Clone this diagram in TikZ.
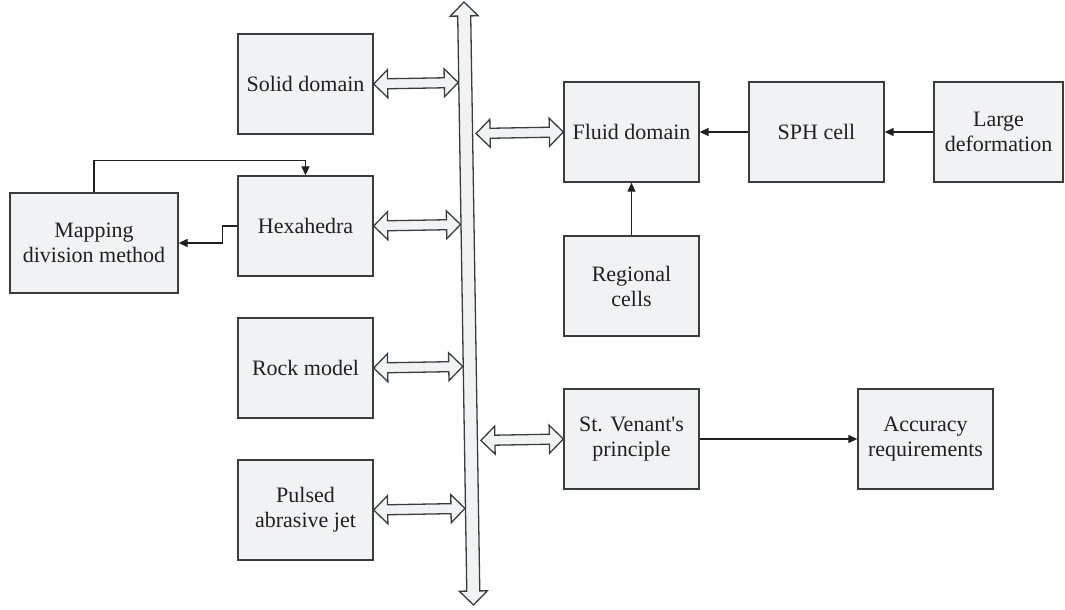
\documentclass[tikz,border=0pt]{standalone}
\usepackage{fontspec}
\setmainfont{Liberation Serif}
\usetikzlibrary{calc,arrows.meta}
\definecolor{boxfill}{HTML}{F1F2F4}
\definecolor{boxline}{HTML}{3C3C3C}
\definecolor{ink}{HTML}{231F20}
\tikzset{%
  block/.style={rectangle,draw=boxline,fill=boxfill,line width=1.3pt,
    minimum width=135pt,minimum height=100pt,align=center,text=ink,
    font=\fontsize{22}{25}\selectfont},
  flow/.style={draw=ink,line width=1.2pt,-{Triangle[length=9pt,width=8pt]}},
  bigarrow/.style={draw=boxline,fill=boxfill,line width=1.3pt,line join=miter}
}
% hollow two-headed arrow: #1 and #2 are the tips,
% #3 half the shaft width, #4 half the head width (and head length)
\newcommand{\fatarrow}[4]{%
  \filldraw[bigarrow] (#1)
    -- ($(#1)!#4!(#2)!#4!90:(#2)$)
    -- ($(#1)!#4!(#2)!#3!90:(#2)$)
    -- ($(#2)!#4!(#1)!#3!-90:(#1)$)
    -- ($(#2)!#4!(#1)!#4!-90:(#1)$)
    -- (#2)
    -- ($(#2)!#4!(#1)!#4!90:(#1)$)
    -- ($(#2)!#4!(#1)!#3!90:(#1)$)
    -- ($(#1)!#4!(#2)!#3!-90:(#2)$)
    -- ($(#1)!#4!(#2)!#4!-90:(#2)$)
    -- cycle;}

\begin{document}
\begin{tikzpicture}[x=1pt,y=1pt,node distance=142pt]
    \useasboundingbox (0,0) rectangle (1065,610);

    % solid side
    \node [block] (solid) at (305.5,526) {Solid domain};
    \node [block] (hexa) [below of=solid] {Hexahedra};
    \node [block] (rock) [below of=hexa] {Rock model};
    \node [block] (pulsed) [below of=rock] {Pulsed\\abrasive jet};
    \node [block, minimum width=168pt] (mapping) at (94,367) {Mapping\\division method};

    % fluid side
    \node [block] (fluid) at (631.5,478) {Fluid domain};
    \node [block] (sph) [right of=fluid, node distance=185pt] {SPH cell};
    \node [block, minimum width=129pt] (large) [right of=sph, node distance=182pt] {Large\\deformation};
    \node [block] (regional) [below of=fluid, node distance=154pt] {Regional\\cells};
    \node [block] (venant) [below of=regional, node distance=153pt] {St. Venant\textquotesingle s\\principle};
    \node [block] (accuracy) [right of=venant, node distance=294pt] {Accuracy\\requirements};

    % coupling bar
    \coordinate (bartop) at (464,608);
    \coordinate (barbot) at (473.5,5);
    \fatarrow{bartop}{barbot}{6.5pt}{14pt}

    \foreach \n in {solid,hexa,rock,pulsed} {
      \coordinate (\n-bar) at ($(bartop)!(\n.east)!(barbot)+(-7,0)$);
      \fatarrow{\n.east}{\n-bar}{5pt}{14pt}
    }
    \foreach \n in {fluid,venant} {
      \coordinate (\n-bar) at ($(bartop)!(\n.west)!(barbot)+(10,0)$);
      \fatarrow{\n-bar}{\n.west}{5pt}{14pt}
    }

    \draw [flow] (sph) -- (fluid);
    \draw [flow] (large) -- (sph);
    \draw [flow] (regional) -- (fluid);
    \draw [flow] (venant) -- (accuracy);
    \draw [flow] (hexa.west) -- ++(-15,0) |- (mapping.east);
    \draw [flow] (mapping.north) -- ++(0,32) -| (hexa.north);
\end{tikzpicture}
\end{document}
